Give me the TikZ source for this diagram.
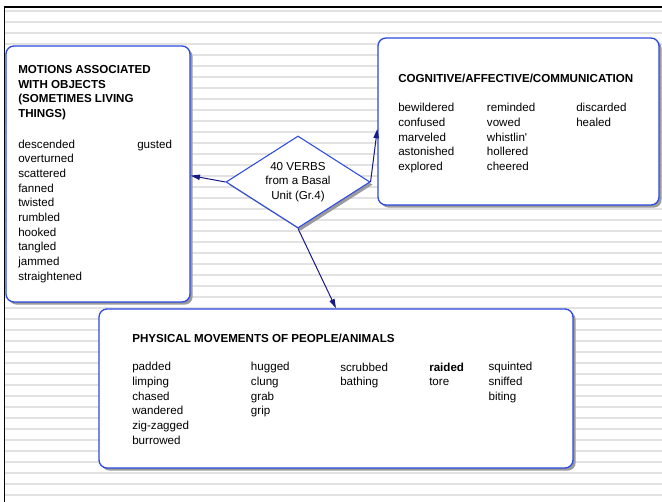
\documentclass[tikz,border=0pt]{standalone}
\usepackage{fontspec}
\setmainfont{Liberation Sans}
\usetikzlibrary{positioning,shapes.geometric,arrows.meta,fit,shadows}
\definecolor{boxblue}{RGB}{45,75,225}
\definecolor{linknavy}{RGB}{25,25,135}
\definecolor{stripegray}{RGB}{226,226,226}
\definecolor{shadowgray}{RGB}{155,155,155}

\begin{document}
\begin{tikzpicture}[x=0.75pt,y=-0.75pt,
    font=\fontsize{8.7pt}{11pt}\selectfont,
    stripe/.style={stripegray,line width=1.5pt},
    groupbox/.style={draw=boxblue,line width=1pt,fill=white,rounded corners=6pt,inner sep=0pt,
        drop shadow={shadow xshift=2pt,shadow yshift=-2pt,fill=shadowgray,opacity=1}},
    hub/.style={diamond,aspect=1.56,draw=boxblue,line width=0.8pt,fill=white,inner sep=0pt,
        minimum width=108pt,minimum height=69pt,align=center,
        drop shadow={shadow xshift=2pt,shadow yshift=-2pt,fill=shadowgray,opacity=1}},
    % multi-line text: placed at the baseline of its last line
    words/.style={anchor=base west,inner sep=0pt,align=left},
    heading/.style={words,font=\fontsize{8.7pt}{10.8pt}\selectfont\bfseries},
    link/.style={draw=linknavy,line width=0.75pt,-{Triangle[length=7pt,width=4pt]}}]

    % Page and ruled background
    \path[fill=white,use as bounding box] (0,0) rectangle (662,502);
    \foreach \k in {1,...,45}
        \draw[stripe] (5,11*\k) -- (662,11*\k);
    \draw[black,line width=0.8pt] (4.5,502) -- (4.5,7) -- (662,7);

    % Group boxes
    \node[groupbox,fit={(6,46) (190,302)}] (motions) {};
    \node[groupbox,fit={(378,38) (659,205)}] (cognitive) {};
    \node[groupbox,fit={(99,309) (573,468)}] (physical) {};

    % Center diamond
    \node[hub] (verbs) at (298,182) {40 VERBS\\from a Basal\\Unit (Gr.4)};

    % Links
    \draw[link] (verbs.west) -- (motions.-1.5);
    \draw[link] (verbs.east) -- (cognitive.183);
    \draw[link] (verbs.south) -- (physical.north);

    % Motions box text
    \node[heading] (motions-head) at (18,117.2) {MOTIONS ASSOCIATED\\WITH OBJECTS\\(SOMETIMES LIVING\\THINGS)};
    \node[words] (motions-a) at (18,280.3) {descended\\overturned\\scattered\\fanned\\twisted\\rumbled\\hooked\\tangled\\jammed\\straightened};
    \node[words] (motions-b) at (137,148.3) {gusted};

    % Cognitive box text
    \node[heading] (cognitive-head) at (398,82.3) {COGNITIVE/AFFECTIVE/COMMUNICATION};
    \node[words] (cognitive-a) at (398,170.4) {bewildered\\confused\\marveled\\astonished\\explored};
    \node[words] (cognitive-b) at (486.7,170.4) {reminded\\vowed\\whistlin\textquotesingle\\hollered\\cheered};
    \node[words] (cognitive-c) at (576,126.4) {discarded\\healed};

    % Physical box text
    \node[heading] (physical-head) at (132,342.3) {PHYSICAL MOVEMENTS OF PEOPLE/ANIMALS};
    \node[words] (physical-a) at (132,444.3) {padded\\limping\\chased\\wandered\\zig-zagged\\burrowed};
    \node[words] (physical-b) at (250.7,415) {hugged\\clung\\grab\\grip};
    \node[words] (physical-c) at (340,385.7) {scrubbed\\bathing};
    \node[words] (physical-d) at (429,385.7) {\textbf{raided}\\tore};
    \node[words] (physical-e) at (488.3,400.3) {squinted\\sniffed\\biting};
\end{tikzpicture}
\end{document}
